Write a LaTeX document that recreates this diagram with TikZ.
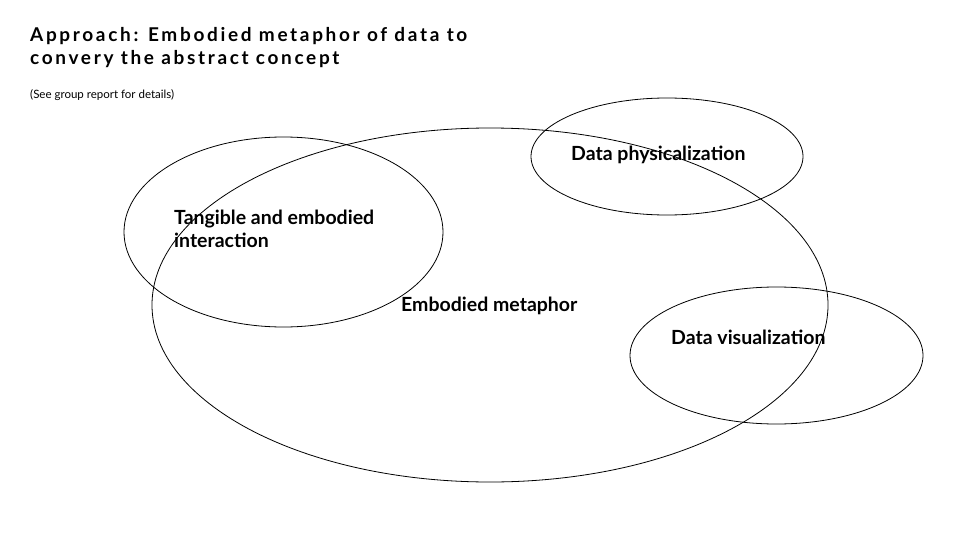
\documentclass[tikz,border=0pt]{standalone}
\usepackage{fontspec}
\setmainfont{Lato}
\begin{document}
\begin{tikzpicture}[x=1pt,y=-1pt,
  ell/.style={draw=black,line width=0.8pt},
  lbl/.style={font=\fontsize{19.5}{23}\selectfont\bfseries,inner sep=0pt,anchor=west,align=left}]
\useasboundingbox (0,0) rectangle (980,551);
\draw[ell] (490,305) ellipse [x radius=338pt, y radius=177pt];
\draw[ell] (283.5,232) ellipse [x radius=159.5pt, y radius=95pt];
\draw[ell] (667,156.5) ellipse [x radius=136pt, y radius=58.5pt];
\draw[ell] (776.5,355.5) ellipse [x radius=146.5pt, y radius=68.5pt];
\node[inner sep=0pt,anchor=west,align=left,font=\fontsize{19}{23}\selectfont\bfseries\addfontfeatures{LetterSpace=14}] (title) at (30,48) {Approach: Embodied metaphor of data to\\convery the abstract concept};
\node[inner sep=0pt,anchor=west,font=\fontsize{11.5}{13}\selectfont] (sub) at (30,95) {(See group report for details)};
\node[lbl] (tang) at (174,229) {Tangible and embodied\\interaction};
\node[lbl] (emb) at (401,306) {Embodied metaphor};
\node[lbl] (phys) at (571,155) {Data physicalization};
\node[lbl] (vis) at (671,337) {Data visualization};
\end{tikzpicture}
\end{document}
